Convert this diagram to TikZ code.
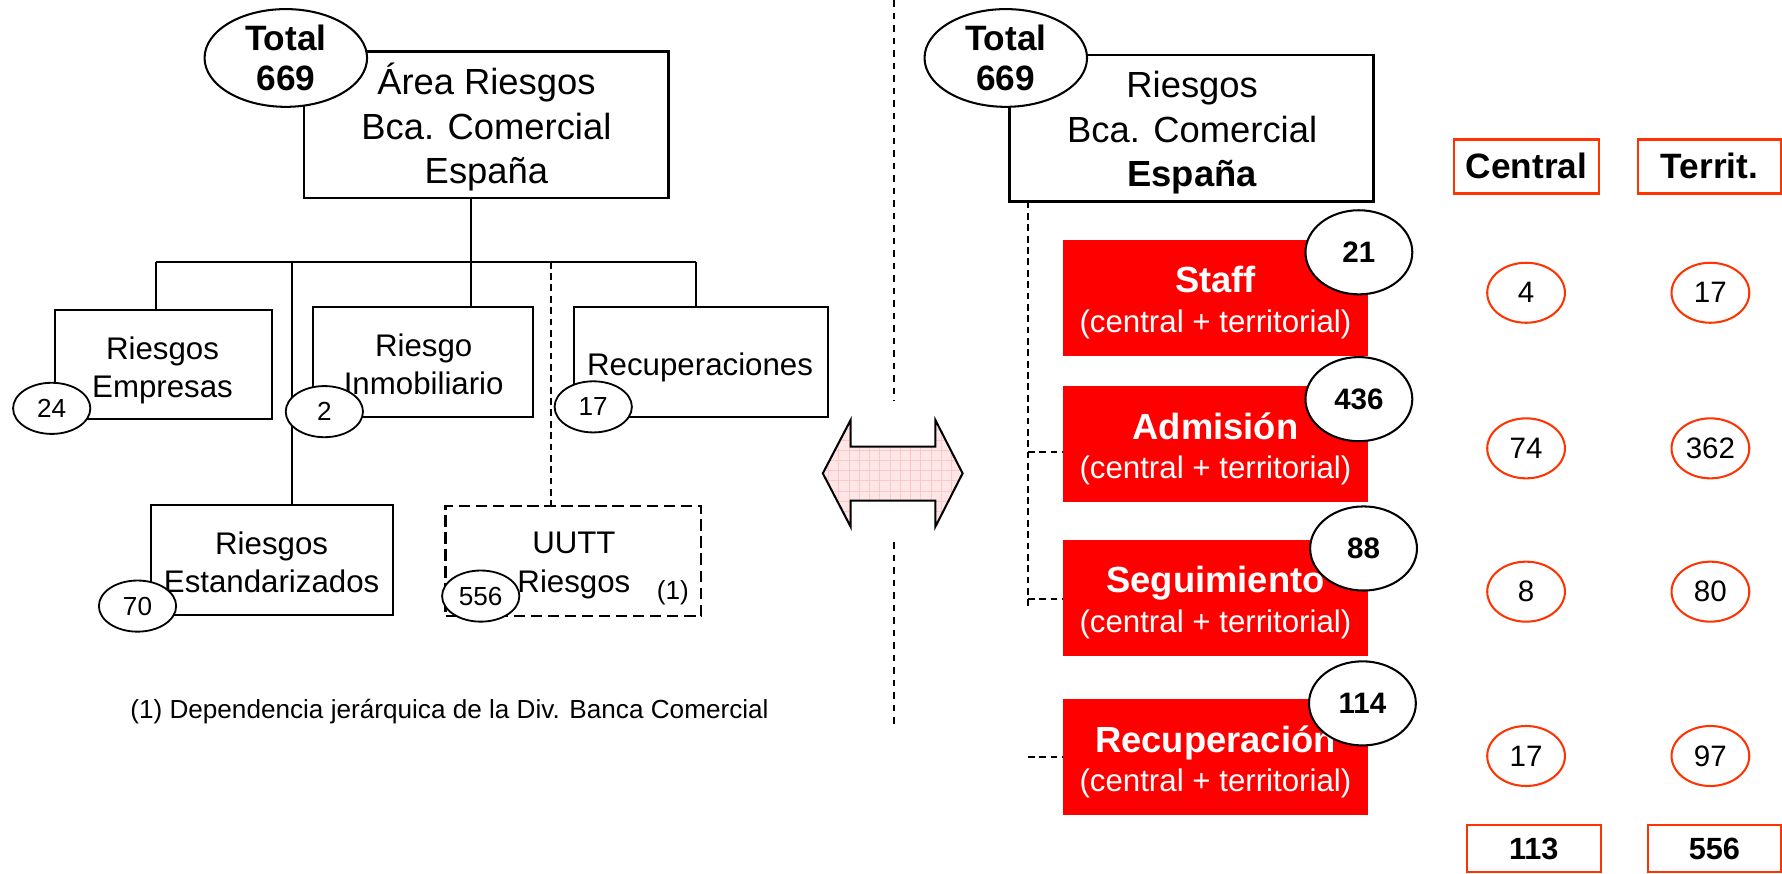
\documentclass[tikz,border=0pt]{standalone}
\usepackage{fontspec}
\setmainfont{Liberation Sans}
\usetikzlibrary{shapes.geometric}
\definecolor{boxred}{RGB}{255,0,0}
\definecolor{orng}{RGB}{255,51,0}
\definecolor{arrowpink}{RGB}{255,230,230}
\definecolor{gridpink}{RGB}{250,200,200}
\newcommand\fsz[2]{\fontsize{#1}{#2}\selectfont}
\tikzset{
  plainbox/.style={draw, line width=1.8pt, fill=white, inner sep=0pt},
  headbox/.style={draw, line width=2.2pt, fill=white, inner sep=0pt},
  boxtext/.style={inner sep=0pt, align=center, font=\fsz{27.5}{33.5}},
  headtext/.style={inner sep=0pt, align=center, font=\fsz{32}{39}},
  totell/.style={ellipse, draw, line width=1.8pt, fill=white, inner sep=0pt,
    minimum width=143pt, minimum height=86pt, align=center, font=\bfseries\fsz{31}{35}},
  cnt/.style={ellipse, draw, line width=1.6pt, fill=white, inner sep=0pt,
    minimum width=68pt, minimum height=45pt, font=\fsz{23}{27}},
  redbox/.style={fill=boxred, minimum width=268.3pt, minimum height=101.8pt, inner sep=0pt},
  redtitle/.style={anchor=base, inner sep=0pt, text=white, font=\bfseries\fsz{32}{38}},
  redsub/.style={anchor=base, inner sep=0pt, text=white, font=\fsz{27.5}{33}},
  bignum/.style={ellipse, draw, line width=1.8pt, fill=white, inner sep=0pt,
    minimum width=94pt, minimum height=74pt, font=\bfseries\fsz{26}{30}},
  onum/.style={ellipse, draw=orng, line width=1.8pt, fill=white, inner sep=0pt,
    minimum width=68.4pt, minimum height=52.8pt, font=\fsz{26}{30}},
  obox/.style={draw=orng, line width=2pt, inner sep=0pt, font=\bfseries\fsz{31}{36}},
  conn/.style={line width=1.8pt},
  dconn/.style={line width=1.6pt, dash pattern=on 6pt off 4pt},
  sepline/.style={line width=1.6pt, dash pattern=on 6pt off 5pt},
  ddbox/.style={draw, line width=1.8pt, dash pattern=on 10pt off 5pt, fill=white, inner sep=0pt},
}
\begin{document}
\begin{tikzpicture}[x=1pt,y=-1pt]
\useasboundingbox (0,0) rectangle (1568,769);

% ---------------- left organisation chart ----------------
\node[headbox, minimum width=320.7pt, minimum height=128.5pt] (ltop) at (428,109.75) {};
\node[headtext] (ltopT) at (428,112) {Área Riesgos\\Bca. Comercial\\España};

\node[plainbox, minimum width=191pt, minimum height=96.2pt] (emp) at (143.5,320.9) {};
\node[boxtext] (empT) at (143,325.9) {Riesgos\\Empresas};
\node[plainbox, minimum width=193pt, minimum height=96.2pt] (inmo) at (372.25,318.5) {};
\node[boxtext] (inmoT) at (372.8,320.2) {Riesgo\\Inmobiliario};
\node[plainbox, minimum width=223.4pt, minimum height=96.2pt] (recu) at (616.7,318.5) {};
\node[boxtext] (recuT) at (616,323.2) {Recuperaciones};
\node[plainbox, minimum width=212.7pt, minimum height=96.8pt] (est) at (239.15,493.1) {};
\node[boxtext] (estT) at (239,494.4) {Riesgos\\Estandarizados};
\node[ddbox, minimum width=225.2pt, minimum height=96.5pt] (uutt) at (504.6,493.55) {};
\node[boxtext] (uuttT) at (505,497.6) {UUTT\\Riesgos};
\node[inner sep=0pt, font=\fsz{23}{27}] (uuttN) at (592,521.2) {(1)};

% bus and connectors
\coordinate (bmain) at (414.2,230.3);
\coordinate (b1) at (137.4,230.3);
\coordinate (b2) at (256.6,230.3);
\coordinate (b3) at (484.9,230.3);
\coordinate (b4) at (612.5,230.3);
\draw[conn] (ltop.south -| bmain) -- (inmo.north -| bmain);
\draw[conn] (b1) -- (b4);
\draw[conn] (b1) -- (b1 |- emp.north);
\draw[conn] (b2) -- (b2 |- est.north);
\draw[conn] (b4) -- (b4 |- recu.north);
\draw[dconn] (b3) -- (b3 |- uutt.north);

% count ellipses
\node[totell] (ltot) at (251.5,51) {Total\\669};
\node[cnt] (c24) at (45.5,359.3) {24};
\node[cnt] (c2) at (285.4,362.2) {2};
\node[cnt] (c17) at (522,358) {17};
\node[cnt] (c70) at (121,533.3) {70};
\node[cnt] (c556) at (423,524.5) {556};

\node[inner sep=0pt, font=\fsz{23}{27}] (foot) at (395.5,626.2)
  {(1) Dependencia jerárquica de la Div. Banca Comercial};

% ---------------- separator and double arrow ----------------
\coordinate (sepA) at (786.5,0);
\coordinate (sepB) at (786.5,353);
\coordinate (sepC) at (786.5,477);
\coordinate (sepD) at (786.5,638);
\draw[sepline] (sepA) -- (sepB);
\draw[sepline] (sepC) -- (sepD);

\begin{scope}
  \path[clip] (724,416.5) -- (748.5,369.5) -- (748.5,393) -- (823,393) -- (823,369.5)
    -- (847,416.5) -- (823,463.5) -- (823,440.5) -- (748.5,440.5) -- (748.5,463.5) -- cycle;
  \fill[arrowpink] (720,365) rectangle (850,468);
  \draw[gridpink, line width=0.5pt, step=9pt] (720,365) grid (850,468);
\end{scope}
\draw[line width=1.8pt, line join=miter] (724,416.5) -- (748.5,369.5) -- (748.5,393) -- (823,393) -- (823,369.5)
    -- (847,416.5) -- (823,463.5) -- (823,440.5) -- (748.5,440.5) -- (748.5,463.5) -- cycle;

% ---------------- right functional chart ----------------
\node[headbox, minimum width=320.4pt, minimum height=129pt] (rtop) at (1048.4,112.9) {};
\node[headtext] (rtopT) at (1049,116.8) {Riesgos\\Bca. Comercial\\\textbf{España}};
\node[totell] (rtot) at (885,51) {Total\\669};

\node[obox, minimum width=127.6pt, minimum height=47.5pt] (hcen) at (1343.3,146.4) {Central};
\node[obox, minimum width=125.5pt, minimum height=47.5pt] (hter) at (1504.25,146.4) {Territ.};

\node[redbox] (staff) at (1069.45,262.1) {};
\node[redbox] (adm) at (1069.45,390.45) {};
\node[redbox] (seg) at (1069.45,526.1) {};
\node[redbox] (rec) at (1069.45,665.85) {};

\node[redtitle] (staffA) at ([yshift=4.5pt]staff.center) {Staff};
\node[redsub] (staffB) at ([yshift=-30.5pt]staff.center) {(central + territorial)};
\node[redtitle] (admA) at ([yshift=3.5pt]adm.center) {Admisión};
\node[redsub] (admB) at ([yshift=-30.5pt]adm.center) {(central + territorial)};
\node[redtitle] (segA) at ([yshift=5pt]seg.center) {Seguimiento};
\node[redsub] (segB) at ([yshift=-30.5pt]seg.center) {(central + territorial)};
\node[redtitle] (recA) at ([yshift=4pt]rec.center) {Recuperación};
\node[redsub] (recB) at ([yshift=-31pt]rec.center) {(central + territorial)};

\node[bignum] (n21) at (1195.7,222) {21};
\node[bignum] (n436) at (1195.7,351.2) {436};
\node[bignum] (n88) at (1199.8,482.6) {88};
\node[bignum] (n114) at (1198.8,618.9) {114};

% dashed tree on the right
\coordinate (vtop) at (904.4,177.4);
\coordinate (vbot) at (904.4,536.8);
\coordinate (tA) at (904.4,398);
\coordinate (tS) at (904.4,527.1);
\coordinate (tR) at (904.4,665.8);
\draw[dconn] (vtop) -- (vbot);
\draw[dconn] (tA) -- (adm.west |- tA);
\draw[dconn] (tS) -- (seg.west |- tS);
\draw[dconn] (tR) -- (rec.west |- tR);

% central / territorial figures
\node[onum] (c4) at (1342.8,257.6) {4};
\node[onum] (t17) at (1505,257.6) {17};
\node[onum] (c74) at (1342.8,394.5) {74};
\node[onum] (t362) at (1505,394.5) {362};
\node[onum] (c8) at (1342.8,520.6) {8};
\node[onum] (t80) at (1505,520.6) {80};
\node[onum] (c17r) at (1342.8,665.2) {17};
\node[onum] (t97) at (1505,665.2) {97};

\node[obox, minimum width=118pt, minimum height=41.5pt, font=\bfseries\fsz{27}{32}] (sumc) at (1349.6,746.75) {113};
\node[obox, minimum width=117pt, minimum height=41.5pt, font=\bfseries\fsz{27}{32}] (sumt) at (1508.5,746.75) {556};
\end{tikzpicture}
\end{document}
